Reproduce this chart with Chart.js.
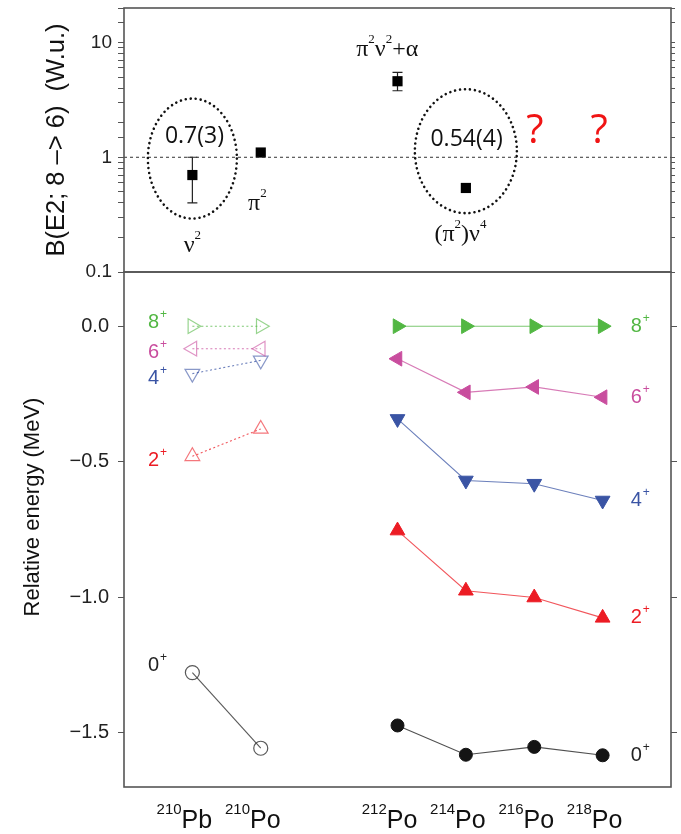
<!DOCTYPE html>
<html lang="en">
<head>
<meta charset="UTF-8">
<title>B(E2) and level energies of Po isotopes</title>
<script src="https://cdn.jsdelivr.net/npm/chart.js"></script>
<style>
  html, body { margin: 0; padding: 0; background: #fff; }
  #wrap { position: relative; width: 681px; height: 834px; }
  #wrap canvas { position: absolute; left: 0; top: 0; }
</style>
</head>
<body>
<div id="wrap">
  <canvas id="topChart" width="681" height="834"></canvas>
  <canvas id="bottomChart" width="681" height="834"></canvas>
</div>
<script>
// nuclei along x (210Pb, 210Po, gap, 212-218Po)
const massNumbers = ['210', '210', '212', '214', '216', '218'];
const elements = ['Pb', 'Po', 'Po', 'Po', 'Po', 'Po'];
const xPos = [0, 1, 3, 4, 5, 6];

// B(E2; 8+ -> 6+) in W.u., index into the nuclei above
const bE2Nuclei = [0, 1, 2, 3];
const bE2 = [0.7, 1.1, 4.6, 0.54];
const bE2Low = [0.4, null, 3.8, null];
const bE2High = [1.0, null, 5.5, null];
const logTickLabels = [0.1, 1, 10];

// level energies relative to the 8+ state (MeV)
const level8 = [0, 0, 0, 0, 0, 0];
const level6 = [-0.083, -0.083, -0.120, -0.244, -0.224, -0.262];
const level4 = [-0.175, -0.126, -0.342, -0.569, -0.581, -0.643];
const level2 = [-0.480, -0.379, -0.754, -0.976, -1.001, -1.076];
const level0 = [-1.278, -1.557, -1.473, -1.581, -1.552, -1.583];

const SANS = '"Liberation Sans", Arial, sans-serif';
const SERIF = '"Liberation Serif", "Times New Roman", serif';
const NOTE = '"Open Sans", sans-serif';
const AXIS = '#555';

Chart.defaults.font.family = SANS;
Chart.defaults.color = '#222';

// "^2" or "^{210}" marks superscripts
function richParts(s) {
  const out = [];
  let buf = '', i = 0;
  while (i < s.length) {
    if (s[i] === '^') {
      if (buf) { out.push([buf, false]); buf = ''; }
      if (s[i + 1] === '{') {
        const j = s.indexOf('}', i);
        out.push([s.slice(i + 2, j), true]);
        i = j + 1;
      } else {
        out.push([s[i + 1], true]);
        i += 2;
      }
    } else {
      buf += s[i];
      i++;
    }
  }
  if (buf) out.push([buf, false]);
  return out;
}

function drawRich(ctx, s, x, y, o) {
  const parts = richParts(s);
  const mainFont = o.size + 'px ' + o.family;
  const supFont = o.supSize + 'px ' + o.family;
  const gap = o.supGap || 0;
  let total = 0;
  const widths = parts.map(([t, sup]) => {
    ctx.font = sup ? supFont : mainFont;
    const w = ctx.measureText(t).width + (sup ? gap : 0);
    total += w;
    return w;
  });
  let cx = o.align === 'center' ? x - total / 2 : x;
  ctx.save();
  ctx.fillStyle = o.color;
  ctx.textAlign = 'left';
  ctx.textBaseline = o.baseline || 'alphabetic';
  parts.forEach(([t, sup], i) => {
    ctx.font = sup ? supFont : mainFont;
    ctx.fillText(t, sup ? cx + gap : cx, sup ? y - o.rise : y);
    cx += widths[i];
  });
  ctx.restore();
}

function drawFrame(chart) {
  const { ctx, chartArea: a } = chart;
  ctx.save();
  ctx.strokeStyle = AXIS;
  ctx.lineWidth = 1.6;
  ctx.strokeRect(a.left, a.top, a.right - a.left, a.bottom - a.top);
  ctx.restore();
}

function drawVTitle(ctx, text, x, y, size) {
  ctx.save();
  ctx.translate(x, y);
  ctx.rotate(-Math.PI / 2);
  ctx.font = size + 'px ' + SANS;
  ctx.fillStyle = '#111';
  ctx.textAlign = 'center';
  ctx.textBaseline = 'middle';
  ctx.fillText(text, 0, 0);
  ctx.restore();
}

const fixWidth = w => s => { s.width = w; s.paddingTop = 0; s.paddingBottom = 0; };

// ---------------- top panel: B(E2) ----------------
const topNotes = [
  { text: 'ν^2', x: 0, y: 0.15 },
  { text: 'π^2', x: 0.95, y: 0.35 },
  { text: 'π^2ν^2+α', x: 2.85, y: 7.6 },
  { text: '(π^2)ν^4', x: 3.92, y: 0.186 }
];
const topValues = [
  { text: '0.7(3)', x: 0.03, y: 1.34 },
  { text: '0.54(4)', x: 4.01, y: 1.25 }
];
const questionMarks = [{ x: 5.01, y: 1.32 }, { x: 5.95, y: 1.32 }];
const rings = [
  { x: 0, y: 0.974, rx: 44.5, ry: 60 },
  { x: 4.0, y: 1.13, rx: 51, ry: 62 }
];

const topPlugin = {
  id: 'topPanel',
  beforeDatasetsDraw(chart) {
    const { ctx } = chart;
    const xs = chart.scales.x, ys = chart.scales.y;
    ctx.save();
    ctx.strokeStyle = '#222';
    ctx.lineWidth = 1.2;
    bE2Nuclei.forEach((n, i) => {
      if (bE2Low[i] == null) return;
      const px = xs.getPixelForValue(xPos[n]);
      const y1 = ys.getPixelForValue(bE2Low[i]);
      const y2 = ys.getPixelForValue(bE2High[i]);
      ctx.beginPath();
      ctx.moveTo(px, y1); ctx.lineTo(px, y2);
      ctx.moveTo(px - 5, y1); ctx.lineTo(px + 5, y1);
      ctx.moveTo(px - 5, y2); ctx.lineTo(px + 5, y2);
      ctx.stroke();
    });
    ctx.restore();
  },
  afterDraw(chart) {
    const { ctx } = chart;
    const xs = chart.scales.x, ys = chart.scales.y;
    drawFrame(chart);

    ctx.save();
    ctx.strokeStyle = '#111';
    ctx.lineWidth = 2.6;
    ctx.lineCap = 'round';
    ctx.setLineDash([0.01, 5]);
    rings.forEach(r => {
      ctx.beginPath();
      ctx.ellipse(xs.getPixelForValue(r.x), ys.getPixelForValue(r.y), r.rx, r.ry, 0, 0, Math.PI * 2);
      ctx.stroke();
    });
    ctx.restore();

    topNotes.forEach(n => drawRich(ctx, n.text, xs.getPixelForValue(n.x), ys.getPixelForValue(n.y),
      { size: 24, supSize: 13, rise: 13, family: SERIF, color: '#111', align: 'center' }));

    ctx.save();
    ctx.textAlign = 'center';
    ctx.textBaseline = 'alphabetic';
    ctx.font = '23px ' + NOTE;
    ctx.fillStyle = '#111';
    topValues.forEach(v => ctx.fillText(v.text, xs.getPixelForValue(v.x), ys.getPixelForValue(v.y)));
    ctx.font = '40px ' + NOTE;
    ctx.fillStyle = '#f01414';
    questionMarks.forEach(q => ctx.fillText('?', xs.getPixelForValue(q.x), ys.getPixelForValue(q.y)));
    ctx.restore();

    drawVTitle(ctx, 'B(E2; 8 –> 6)  (W.u.)', 57, 140, 25.5);
  }
};

const logTickCallback = v => {
  const hit = logTickLabels.find(t => Math.abs(Math.log10(v) - Math.log10(t)) < 1e-6);
  return hit === undefined ? '' : String(hit);
};

new Chart(document.getElementById('topChart'), {
  type: 'scatter',
  data: {
    datasets: [
      {
        data: [{ x: -1, y: 1 }, { x: 7, y: 1 }],
        showLine: true,
        borderColor: '#333',
        borderWidth: 1,
        borderDash: [3, 3],
        pointRadius: 0
      },
      {
        data: bE2Nuclei.map((n, i) => ({ x: xPos[n], y: bE2[i] })),
        pointStyle: 'rect',
        pointRadius: 7.2,
        backgroundColor: '#000',
        borderColor: '#000',
        borderWidth: 0
      }
    ]
  },
  options: {
    responsive: false,
    devicePixelRatio: 1,
    animation: false,
    events: [],
    layout: { padding: { top: 8, bottom: 834 - 272, left: 0, right: 0 } },
    plugins: { legend: { display: false }, tooltip: { enabled: false } },
    scales: {
      x: { type: 'linear', min: -1, max: 7, display: false },
      y: {
        type: 'logarithmic', min: 0.1, max: 20, position: 'left',
        afterFit: fixWidth(124),
        border: { display: false },
        grid: { drawOnChartArea: false, tickLength: 6, color: AXIS, tickWidth: 1 },
        ticks: { autoSkip: false, callback: logTickCallback, font: { size: 19 }, color: '#222', padding: 6 }
      },
      y2: {
        type: 'logarithmic', min: 0.1, max: 20, position: 'right',
        afterFit: fixWidth(10),
        border: { display: false },
        grid: { drawOnChartArea: false, tickLength: 4, color: AXIS },
        ticks: { display: false, autoSkip: false }
      }
    }
  },
  plugins: [topPlugin]
});

// ---------------- bottom panel: level energies ----------------
const levels = [
  { spin: '8', values: level8, rgb: '82,183,67', style: 'triangle', rot: 90, r: 8.5, dy: -4 },
  { spin: '6', values: level6, rgb: '201,77,158', style: 'triangle', rot: -90, r: 8.5, dy: 4 },
  { spin: '4', values: level4, rgb: '58,84,164', style: 'triangle', rot: 180, r: 8.5, dy: 5 },
  { spin: '2', values: level2, rgb: '236,28,36', style: 'triangle', rot: 0, r: 8.5, dy: 4 },
  { spin: '0', values: level0, rgb: '20,20,20', style: 'circle', rot: 0, r: 6.5, dy: -7 }
];

const energyDatasets = [];
levels.forEach(l => {
  const ground = l.spin === '0';
  energyDatasets.push({
    data: xPos.slice(0, 2).map((x, i) => ({ x, y: l.values[i] })),
    showLine: true,
    borderColor: ground ? 'rgba(70,70,70,0.9)' : 'rgba(' + l.rgb + ',0.75)',
    borderWidth: 1.1,
    borderDash: ground ? [] : [2, 2.5],
    pointStyle: l.style,
    rotation: l.rot,
    pointRadius: ground ? 7 : l.r,
    pointBackgroundColor: 'rgba(255,255,255,0)',
    pointBorderColor: ground ? 'rgba(70,70,70,0.9)' : 'rgba(' + l.rgb + ',0.6)',
    pointBorderWidth: 1.2
  });
  energyDatasets.push({
    data: xPos.slice(2).map((x, i) => ({ x, y: l.values[i + 2] })),
    showLine: true,
    borderColor: ground ? 'rgba(60,60,60,0.9)' : 'rgba(' + l.rgb + ',0.75)',
    borderWidth: 1.1,
    pointStyle: l.style,
    rotation: l.rot,
    pointRadius: l.r,
    pointBackgroundColor: 'rgb(' + l.rgb + ')',
    pointBorderColor: 'rgb(' + l.rgb + ')',
    pointBorderWidth: 1
  });
});

const bottomPlugin = {
  id: 'bottomPanel',
  afterDraw(chart) {
    const { ctx, chartArea } = chart;
    const xs = chart.scales.x, ys = chart.scales.y;
    drawFrame(chart);

    // nucleus labels under the axis
    xPos.forEach((x, i) => {
      drawRich(ctx, '^{' + massNumbers[i] + '}' + elements[i], xs.getPixelForValue(x) - 8, chartArea.bottom + 41,
        { size: 25, supSize: 15, rise: 14, family: SANS, color: '#111', align: 'center' });
    });

    // spin labels, left of 210Pb and right of 218Po
    levels.forEach(l => {
      const color = l.spin === '0' ? '#222' : 'rgb(' + l.rgb + ')';
      const opts = { size: 20, supSize: 12, rise: 8, family: SANS, color, align: 'left', baseline: 'middle', supGap: 1 };
      drawRich(ctx, l.spin + '^+', xs.getPixelForValue(-0.65), ys.getPixelForValue(l.values[0]) + l.dy, opts);
      drawRich(ctx, l.spin + '^+', xs.getPixelForValue(6.41), ys.getPixelForValue(l.values[5]), opts);
    });

    drawVTitle(ctx, 'Relative energy (MeV)', 33, 507, 22);
  }
};

new Chart(document.getElementById('bottomChart'), {
  type: 'scatter',
  data: { datasets: energyDatasets },
  options: {
    responsive: false,
    devicePixelRatio: 1,
    animation: false,
    events: [],
    layout: { padding: { top: 272, bottom: 834 - 787, left: 0, right: 0 } },
    plugins: { legend: { display: false }, tooltip: { enabled: false } },
    scales: {
      x: { type: 'linear', min: -1, max: 7, display: false },
      y: {
        type: 'linear', min: -1.7, max: 0.2, position: 'left',
        afterFit: fixWidth(124),
        border: { display: false },
        grid: { drawOnChartArea: false, tickLength: 6, color: AXIS },
        ticks: {
          stepSize: 0.5, includeBounds: false, font: { size: 20 }, color: '#222', padding: 9,
          callback: v => (v < 0 ? '−' : '') + Math.abs(v).toFixed(1)
        }
      },
      y2: {
        type: 'linear', min: -1.7, max: 0.2, position: 'right',
        afterFit: fixWidth(10),
        border: { display: false },
        grid: { drawOnChartArea: false, tickLength: 6, color: AXIS },
        ticks: { display: false, stepSize: 0.5, includeBounds: false }
      }
    }
  },
  plugins: [bottomPlugin]
});
</script>
</body>
</html>
